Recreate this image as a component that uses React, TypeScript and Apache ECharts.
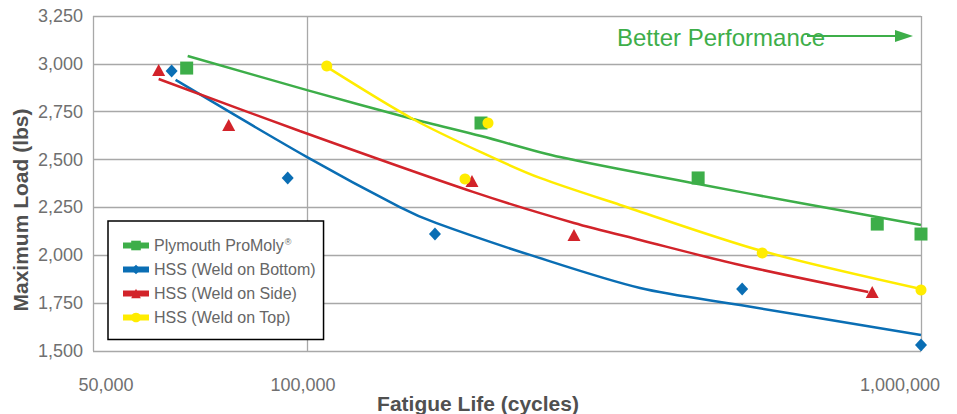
import React, { useEffect, useRef } from "react";
import * as echarts from "echarts";

// ---- Data ----
const SERIES_NAMES = [
  "Plymouth ProMoly®",
  "HSS (Weld on Bottom)",
  "HSS (Weld on Side)",
  "HSS (Weld on Top)",
];

const GREEN_POINTS = [
  [63660, 2978],
  [192000, 2691],
  [433500, 2404],
  [848700, 2163],
  [1000000, 2111],
];
const BLUE_POINTS = [
  [60170, 2963],
  [92990, 2404],
  [161550, 2111],
  [511300, 1824],
  [1000000, 1531],
];
const RED_POINTS = [
  [57310, 2968],
  [74530, 2681],
  [185600, 2388],
  [272100, 2106],
  [832800, 1808],
];
const YELLOW_POINTS = [
  [107670, 2989],
  [197100, 2691],
  [180800, 2399],
  [551300, 2012],
  [1000000, 1819],
];

const GREEN_CURVE = [
  [63900, 3041],
  [100000, 2863],
  [148700, 2712],
  [192000, 2623],
  [258200, 2513],
  [433500, 2372],
  [635700, 2273],
  [1000000, 2158],
];
const BLUE_CURVE = [
  [61070, 2916],
  [100000, 2513],
  [141600, 2252],
  [162100, 2169],
  [230700, 2002],
  [348700, 1829],
  [507500, 1740],
  [1000000, 1584],
];
const RED_CURVE = [
  [57310, 2921],
  [97300, 2649],
  [186300, 2331],
  [272100, 2169],
  [348700, 2080],
  [507500, 1949],
  [820600, 1808],
];
const YELLOW_CURVE = [
  [107670, 2984],
  [148700, 2712],
  [196300, 2524],
  [239500, 2404],
  [323500, 2263],
  [551200, 2022],
  [1000000, 1824],
];

const X_MIN = 44800;
const X_MAX = 1000000;
const X_TICK_LABELS = ["50,000", "100,000", "1,000,000"];
const Y_MIN = 1500;
const Y_MAX = 3250;
const Y_INTERVAL = 250;

const X_TITLE = "Fatigue Life (cycles)";
const Y_TITLE = "Maximum Load (lbs)";
const ANNOTATION = "Better Performance";

const COLORS = ["#3DAE49", "#0A6EB4", "#D2232A", "#FFEC00"];
const SYMBOLS = ["rect", "diamond", "triangle", "circle"];
const SYMBOL_SIZES: any[] = [13, [12, 13], [13, 12], 11];

const FONT = "'Liberation Sans', Arial, Helvetica, sans-serif";

export default function App() {
  const ref = useRef<HTMLDivElement>(null);

  useEffect(() => {
    if (!ref.current) return;
    const chart = echarts.init(ref.current, null, { renderer: "svg" });

    const points = [GREEN_POINTS, BLUE_POINTS, RED_POINTS, YELLOW_POINTS];
    const curves = [GREEN_CURVE, BLUE_CURVE, RED_CURVE, YELLOW_CURVE];

    const series: any[] = [];
    SERIES_NAMES.forEach((name, i) => {
      series.push({
        name,
        type: "line",
        data: curves[i],
        smooth: 0.3,
        symbol: SYMBOLS[i],
        showSymbol: false,
        symbolSize: SYMBOL_SIZES[i],
        lineStyle: { color: COLORS[i], width: 2.5 },
        itemStyle: { color: COLORS[i] },
        z: 2,
        silent: true,
      });
    });
    SERIES_NAMES.forEach((name, i) => {
      series.push({
        name,
        type: "scatter",
        data: points[i],
        symbol: SYMBOLS[i],
        symbolSize: SYMBOL_SIZES[i],
        itemStyle: { color: COLORS[i], opacity: 1 },
        z: 3 + i,
        silent: true,
      });
    });

    const labelRich = {
      a: { fontSize: 18, color: "#707070", fontFamily: FONT, padding: [0, 0, 0, 26] },
      b: { fontSize: 18, color: "#707070", fontFamily: FONT, padding: [0, 8, 0, 0] },
      c: { fontSize: 18, color: "#707070", fontFamily: FONT, padding: [0, 42, 0, 0] },
    };

    chart.setOption({
      animation: false,
      grid: {
        left: 93,
        right: 36,
        top: 16,
        bottom: 63,
        containLabel: false,
        outerBoundsMode: "none",
      },
      legend: {
        orient: "vertical",
        left: 108,
        top: 221,
        data: SERIES_NAMES.map((n) => ({ name: n, lineStyle: { width: 6 } })),
        backgroundColor: "#ffffff",
        borderColor: "#000000",
        borderWidth: 1.5,
        borderRadius: 0,
        padding: [16, 8, 14, 12],
        itemWidth: 26,
        itemHeight: 12,
        itemGap: 8,
        lineStyle: { width: 6 },
        formatter: (name: string) =>
          name.endsWith("®") ? name.slice(0, -1) + "{s|®}" : name,
        textStyle: {
          fontSize: 16,
          color: "#666666",
          fontFamily: FONT,
          rich: {
            s: { fontSize: 9, color: "#666666", fontFamily: FONT, padding: [0, 0, 8, 1] },
          },
        },
        selectedMode: false,
        z: 10,
      },
      xAxis: {
        type: "log",
        logBase: 10,
        min: X_MIN,
        max: X_MAX,
        axisLine: { show: false },
        axisTick: { show: false },
        splitLine: { show: true, lineStyle: { color: "#A8A8A8", width: 1.3 } },
        axisLabel: {
          showMinLabel: true,
          showMaxLabel: true,
          margin: 25,
          fontSize: 18,
          color: "#707070",
          fontFamily: FONT,
          formatter: (v: number) => {
            if (v < 70000) return "{a|" + X_TICK_LABELS[0] + "}";
            if (v < 300000) return "{b|" + X_TICK_LABELS[1] + "}";
            return "{c|" + X_TICK_LABELS[2] + "}";
          },
          rich: labelRich,
        },
      },
      yAxis: {
        type: "value",
        min: Y_MIN,
        max: Y_MAX,
        interval: Y_INTERVAL,
        axisLine: { show: false },
        axisTick: { show: false },
        splitLine: { show: true, lineStyle: { color: "#A8A8A8", width: 1.3 } },
        axisLabel: {
          margin: 10,
          fontSize: 18,
          color: "#707070",
          fontFamily: FONT,
          formatter: (v: number) => v.toLocaleString("en-US"),
        },
      },
      graphic: [
        {
          type: "text",
          x: 20,
          y: 210,
          rotation: Math.PI / 2,
          style: {
            text: Y_TITLE,
            fontSize: 21,
            fontWeight: "bold",
            fill: "#505050",
            fontFamily: FONT,
            align: "center",
            verticalAlign: "middle",
          },
        },
        {
          type: "text",
          x: 478,
          y: 403,
          style: {
            text: X_TITLE,
            fontSize: 21,
            fontWeight: "bold",
            fill: "#505050",
            fontFamily: FONT,
            align: "center",
            verticalAlign: "middle",
          },
        },
        {
          type: "text",
          x: 617,
          y: 37,
          style: {
            text: ANNOTATION,
            fontSize: 24,
            fill: "#3DAE49",
            fontFamily: FONT,
            align: "left",
            verticalAlign: "middle",
          },
          z: 20,
        },
        {
          type: "line",
          shape: { x1: 807, y1: 36, x2: 898, y2: 36 },
          style: { stroke: "#3DAE49", lineWidth: 2 },
          z: 20,
        },
        {
          type: "polygon",
          shape: { points: [[895, 30], [913, 36], [895, 42]] },
          style: { fill: "#3DAE49" },
          z: 20,
        },
      ],
      series,
    });

    return () => {
      chart.dispose();
    };
  }, []);

  return (
    <div
      ref={ref}
      style={{ position: "fixed", left: 0, top: 0, width: 957, height: 414, background: "#ffffff" }}
    />
  );
}
